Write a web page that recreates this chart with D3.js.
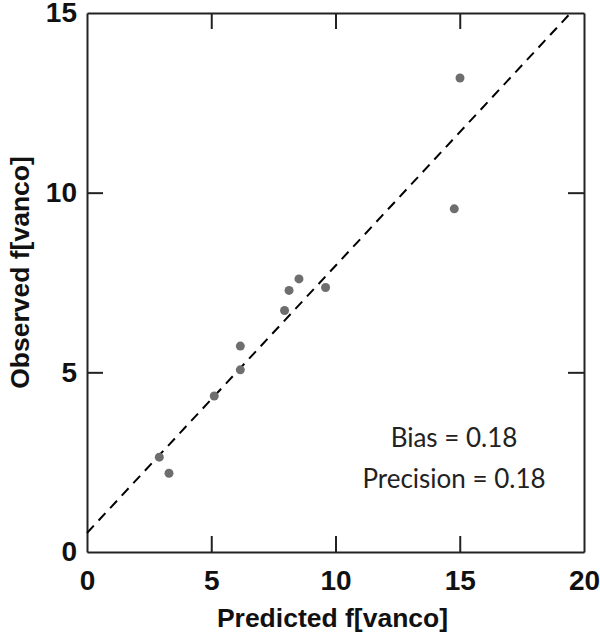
<!DOCTYPE html>
<html>
<head>
<meta charset="utf-8">
<script src="https://cdn.jsdelivr.net/npm/d3@7"></script>
<style>
  body { margin: 0; background: #fff; }
  svg { display: block; }
  .tick-label { font-family: "Liberation Sans", Arial, sans-serif; font-weight: bold; font-size: 28px; fill: #111; }
  .axis-title { font-family: "Liberation Sans", Arial, sans-serif; font-weight: bold; font-size: 26.5px; fill: #111; }
  .note { font-family: Lato, "Open Sans", sans-serif; font-size: 26px; fill: #222; }
</style>
</head>
<body>
<svg id="chart" width="600" height="636"></svg>
<script>
// 数据
const predicted = [2.91, 3.3, 5.12, 6.17, 6.17, 7.95, 8.13, 8.53, 9.6, 14.78, 15.01];
const observed  = [2.64, 2.19, 4.34, 5.07, 5.73, 6.72, 7.28, 7.6, 7.36, 9.55, 13.19];
const xTicks = [0, 5, 10, 15, 20];
const yTicks = [0, 5, 10, 15];
// 虚线 (回归线) 的两个端点
const fitLine = [[0, 0.53], [19.46, 15]];
const notes = ["Bias = 0.18", "Precision = 0.18"];

const margin = { left: 87, right: 16, top: 13, bottom: 84 };
const width = 600, height = 636;

const svg = d3.select("#chart");

const x = d3.scaleLinear().domain([0, 20]).range([margin.left, width - margin.right]);
const y = d3.scaleLinear().domain([0, 15]).range([height - margin.bottom, margin.top]);

// 坐标轴 (刻度朝内，四边都有)
const tickLen = 16;
const axBottom = svg.append("g")
    .attr("transform", `translate(0,${y(0)})`)
    .call(d3.axisBottom(x).tickValues(xTicks).tickSizeInner(-tickLen).tickSizeOuter(0).tickPadding(18));
const axLeft = svg.append("g")
    .attr("transform", `translate(${x(0)},0)`)
    .call(d3.axisLeft(y).tickValues(yTicks).tickSizeInner(-tickLen).tickSizeOuter(0).tickPadding(10));
const axTop = svg.append("g")
    .attr("transform", `translate(0,${y(15)})`)
    .call(d3.axisTop(x).tickValues(xTicks).tickSizeInner(-tickLen).tickSizeOuter(0).tickFormat(""));
const axRight = svg.append("g")
    .attr("transform", `translate(${x(20)},0)`)
    .call(d3.axisRight(y).tickValues(yTicks).tickSizeInner(-tickLen).tickSizeOuter(0).tickFormat(""));

[axBottom, axLeft, axTop, axRight].forEach(g => {
    g.attr("font-size", null).attr("font-family", null);
    g.select(".domain").attr("stroke", "#222").attr("stroke-width", 2);
    g.selectAll(".tick line").attr("stroke", "#222").attr("stroke-width", 2);
    g.selectAll(".tick text").attr("class", "tick-label").attr("fill", null);
});
// 0 和 20 处的刻度与边框重合，去掉
axBottom.selectAll(".tick line").filter(d => d === 0 || d === 20).remove();
axTop.selectAll(".tick line").filter(d => d === 0 || d === 20).remove();
axLeft.selectAll(".tick line").filter(d => d === 0 || d === 15).remove();
axRight.selectAll(".tick line").filter(d => d === 0 || d === 15).remove();

// 虚线
svg.append("line")
    .attr("x1", x(fitLine[0][0])).attr("y1", y(fitLine[0][1]))
    .attr("x2", x(fitLine[1][0])).attr("y2", y(fitLine[1][1]))
    .attr("stroke", "#000")
    .attr("stroke-width", 2)
    .attr("stroke-dasharray", "10,7");

// 散点
svg.append("g")
    .selectAll("circle")
    .data(predicted.map((p, i) => ({ p, o: observed[i] })))
    .enter().append("circle")
    .attr("cx", d => x(d.p))
    .attr("cy", d => y(d.o))
    .attr("r", 4.5)
    .attr("fill", "#6e6e6e");

// 轴标题
svg.append("text")
    .attr("class", "axis-title")
    .attr("x", (x(0) + x(20)) / 2 - 3)
    .attr("y", 627)
    .attr("text-anchor", "middle")
    .text("Predicted f[vanco]");

svg.append("text")
    .attr("class", "axis-title")
    .attr("transform", `translate(29,${(y(0) + y(15)) / 2 - 10}) rotate(-90)`)
    .attr("text-anchor", "middle")
    .text("Observed f[vanco]");

// 注释
svg.append("g")
    .selectAll("text")
    .data(notes)
    .enter().append("text")
    .attr("class", "note")
    .attr("x", 454)
    .attr("y", (d, i) => 447 + i * 41)
    .attr("text-anchor", "middle")
    .text(d => d);
</script>
</body>
</html>
